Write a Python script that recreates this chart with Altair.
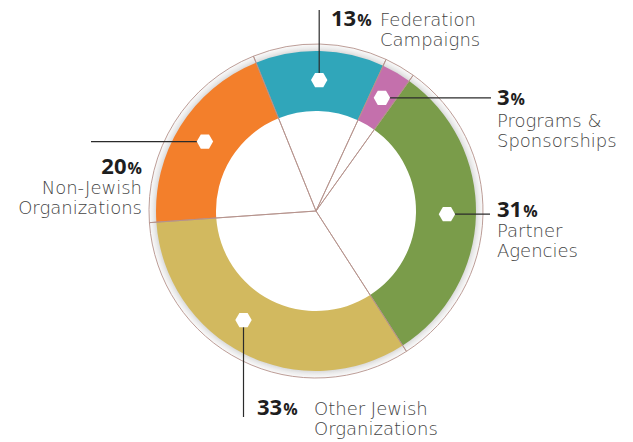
import math
import altair as alt
import pandas as pd

# ---------------- data ----------------
categories = ["Federation Campaigns", "Programs & Sponsorships", "Partner Agencies",
              "Other Jewish Organizations", "Non-Jewish Organizations"]
percents = [13, 3, 31, 33, 20]
colors = ["#30a6ba", "#c470ac", "#7a9c4a", "#d2b95f", "#f37f2b"]
pct_numbers = ["13", "3", "31", "33", "20"]
name_line1 = ["Federation", "Programs &", "Partner", "Other Jewish", "Non-Jewish"]
name_line2 = ["Campaigns", "Sponsorships", "Agencies", "Organizations", "Organizations"]

# ---------------- layout ----------------
W, H = 617, 432
CX, CY = 308, 203
R_OUT, R_RING, R_IN = 167, 160, 100
START_DEG = -22.0
TAU = 2 * math.pi
start = TAU + math.radians(START_DEG)
HEX_R = 131
HEX_NUDGE = [0, 0, 0, 7, 0]
BOLD_FONT = "Open Sans"
NAME_FONT = "DejaVu Sans"
NUM_SIZE, PCT_SIZE = 22, 16
DIGIT_W = 0.572 * NUM_SIZE
PCT_W = 14.5

df = pd.DataFrame({"cat": categories, "pct": percents, "idx": list(range(len(categories)))})

theta = alt.Theta("pct:Q", stack=True, scale=alt.Scale(type="linear", range=[start, start + TAU]))
order = alt.Order("idx:Q")
cx, cy = alt.value(CX), alt.value(CY)

# gray shadow band + white centre
grad = alt.Gradient(
    gradient="radial", x1=0.5, y1=0.5, x2=0.5, y2=0.5, r1=0, r2=0.5,
    stops=[alt.GradientStop(offset=0, color="#ffffff"),
           alt.GradientStop(offset=0.6, color="#ffffff"),
           alt.GradientStop(offset=0.955, color="#d8d8d8"),
           alt.GradientStop(offset=0.975, color="#ebebeb"),
           alt.GradientStop(offset=1, color="#fbfbfb")])
backdrop = alt.Chart(pd.DataFrame({"a": [0]})).mark_arc(fill=grad, radius=R_OUT).encode(
    theta=alt.value(0), theta2=alt.value(TAU), x=cx, y=cy)

ring = alt.Chart(df).mark_arc(radius=R_RING, radius2=R_IN).encode(
    theta=theta, order=order, x=cx, y=cy,
    color=alt.Color("cat:N", scale=alt.Scale(domain=categories, range=colors), legend=None))

edges = alt.Chart(df).mark_arc(radius=R_OUT, filled=False, stroke="#b4928b", strokeWidth=0.9).encode(
    theta=theta, order=order, x=cx, y=cy)

# ---------------- annotations ----------------
cum = 0
hx, hy = [], []
for p, nud in zip(percents, HEX_NUDGE):
    mid = math.radians(START_DEG + (cum + p / 2) * 3.6 + nud)
    cum += p
    hx.append(CX + HEX_R * math.sin(mid))
    hy.append(CY - HEX_R * math.cos(mid))

# leader line ends
ends = [(hx[0], 2), (483, hy[1]), (482, hy[2]), (hx[3], 409), (83, hy[4])]
lines_df = pd.DataFrame({"x": hx, "y": hy, "x2": [e[0] for e in ends], "y2": [e[1] for e in ends]})
leaders = alt.Chart(lines_df).mark_rule(color="#2b2b2b", strokeWidth=1.2).encode(
    x=alt.X("x:Q", scale=None), y=alt.Y("y:Q", scale=None),
    x2="x2:Q", y2="y2:Q")

HEX = "M -1 0 L -0.5 -0.866 L 0.5 -0.866 L 1 0 L 0.5 0.866 L -0.5 0.866 Z"
hexes = alt.Chart(pd.DataFrame({"x": hx, "y": hy})).mark_point(
    shape=HEX, size=270, filled=True, fill="white", opacity=1, strokeWidth=0).encode(
    x=alt.X("x:Q", scale=None), y=alt.Y("y:Q", scale=None))

# text anchors: (pct x, pct y, name x, name y, align)
anchors = [(323, 18, 372, 18, "left"),
           (489, 97, 489, 119, "left"),
           (489, 209, 489, 229, "left"),
           (249, 407, 306, 407, "left"),
           (134, 166, 134, 186, "right")]
LH = 20

def text_layer(rows, kind):
    d = pd.DataFrame(rows, columns=["x", "y", "t"])
    if kind == "num":
        props = dict(font=BOLD_FONT, fontSize=NUM_SIZE, fontWeight="bold", color="#1e1e1e")
    elif kind == "pct":
        props = dict(font=BOLD_FONT, fontSize=PCT_SIZE, fontWeight="bold", color="#1e1e1e")
    else:
        props = dict(font=NAME_FONT, fontSize=18, fontWeight=200, color="#444444")
    return alt.Chart(d).mark_text(align="left", baseline="alphabetic", **props).encode(
        x=alt.X("x:Q", scale=None), y=alt.Y("y:Q", scale=None), text="t:N")

num_rows, pct_rows, name_rows_left, name_rows_right = [], [], [], []
for i, (px, py, nx, ny, align) in enumerate(anchors):
    num_w = DIGIT_W * len(pct_numbers[i])
    if align == "left":
        num_x = px
        name_rows_left.append((nx, ny, name_line1[i]))
        name_rows_left.append((nx, ny + LH, name_line2[i]))
    else:
        num_x = px - PCT_W - 1 - num_w
        name_rows_right.append((nx, ny, name_line1[i]))
        name_rows_right.append((nx, ny + LH, name_line2[i]))
    num_rows.append((num_x, py, pct_numbers[i]))
    pct_rows.append((num_x + num_w + 1, py, "%"))

layers_text = [text_layer(num_rows, "num"), text_layer(pct_rows, "pct"),
               text_layer(name_rows_left, "name")]
right_names = alt.Chart(pd.DataFrame(name_rows_right, columns=["x", "y", "t"])).mark_text(
    align="right", baseline="alphabetic", font=NAME_FONT, fontSize=18, fontWeight=200,
    color="#444444").encode(
    x=alt.X("x:Q", scale=None), y=alt.Y("y:Q", scale=None), text="t:N")
layers_text.append(right_names)

chart = alt.layer(backdrop, ring, edges, leaders, hexes, *layers_text).properties(
    width=W, height=H, padding=0, autosize="none"
).configure_view(strokeWidth=0)

chart.save("out.html", embed_options={"renderer": "svg", "actions": False})
